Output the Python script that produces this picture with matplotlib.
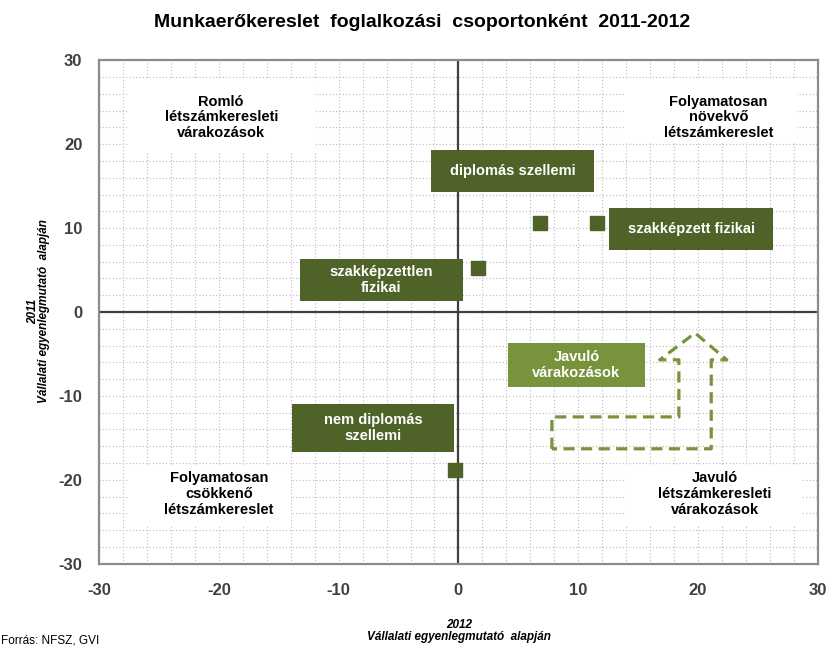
import matplotlib.pyplot as plt
from matplotlib.patches import Rectangle
import numpy as np

plt.rcParams['font.family'] = ['Liberation Sans', 'DejaVu Sans']
plt.rcParams['axes.unicode_minus'] = False
NARROW = ['Liberation Sans Narrow', 'DejaVu Sans Condensed', 'Liberation Sans']

# adatok: 2012 (x) és 2011 (y) vállalati egyenlegmutató
groups = ['diplomás szellemi', 'szakképzett fizikai',
          'szakképzettlen\nfizikai', 'nem diplomás\nszellemi']
x2012 = [6.8, 11.6, 1.6, -0.3]
y2011 = [10.6, 10.6, 5.2, -18.8]

# címkedobozok (x0, x1, y0, y1)
group_boxes = [(-2.25, 11.3, 14.3, 19.3),
               (12.6, 26.25, 7.4, 12.4),
               (-13.25, 0.35, 1.3, 6.3),
               (-13.9, -0.35, -16.7, -10.95)]

quad_texts = ['Romló\nlétszámkeresleti\nvárakozások',
              'Folyamatosan\nnövekvő\nlétszámkereslet',
              'Folyamatosan\ncsökkenő\nlétszámkereslet',
              'Javuló\nlétszámkeresleti\nvárakozások']
quad_pos = [(-19.8, 23.2), (21.7, 23.2), (-20.0, -21.7), (21.4, -21.7)]
quad_boxes = [(-27.6, -11.9, 19.0, 27.6),
              (13.9, 28.3, 20.1, 27.6),
              (-27.6, -14.0, -25.4, -18.2),
              (14.0, 28.6, -25.4, -18.2)]

# nyíl körvonala
arrow_x = [7.8, 7.8, 18.4, 18.4, 16.8, 19.75, 22.4, 21.1, 21.1, 7.8]
arrow_y = [-16.3, -12.5, -12.5, -5.7, -5.7, -2.5, -5.7, -5.7, -16.3, -16.3]
javulo_box = (4.1, 15.6, -8.9, -3.7)

dark = '#4F6228'
light = '#77933C'

fig = plt.figure(figsize=(8.32, 6.48), dpi=100)
ax = fig.add_axes([0.119, 0.130, 0.864, 0.777])

ax.set_xlim(-30, 30)
ax.set_ylim(-30, 30)
ax.set_xticks(np.arange(-30, 31, 10))
ax.set_yticks(np.arange(-30, 31, 10))
ax.set_xticks(np.arange(-30, 31, 2), minor=True)
ax.set_yticks(np.arange(-30, 31, 2), minor=True)
ax.grid(which='both', color='#bcbcbc', linestyle=(0, (1, 2)), linewidth=0.8, zorder=0)
ax.set_axisbelow(True)
ax.tick_params(which='both', length=0)
ax.tick_params(axis='x', pad=14)
ax.tick_params(axis='y', pad=12)
for lbl in ax.get_xticklabels() + ax.get_yticklabels():
    lbl.set_fontsize(12)
    lbl.set_fontweight('bold')
    lbl.set_color('#404040')
for sp in ax.spines.values():
    sp.set_color('#8c8c8c')
    sp.set_linewidth(1.6)

ax.axhline(0, color='#404040', lw=1.6, zorder=1)
ax.axvline(0, color='#404040', lw=1.6, zorder=1)

# negyed-feliratok fehér háttérrel
for txt, (tx, ty), (x0, x1, y0, y1) in zip(quad_texts, quad_pos, quad_boxes):
    ax.add_patch(Rectangle((x0, y0), x1 - x0, y1 - y0, facecolor='white',
                           edgecolor='none', zorder=1.2))
    ax.text(tx, ty, txt, ha='center', va='center', fontsize=10.5,
            fontweight='bold', color='black', linespacing=1.15, zorder=3)

# pontok
ax.plot(x2012, y2011, linestyle='none', marker='s', markersize=10,
        color=dark, zorder=4)

# csoportcímkék
for txt, (x0, x1, y0, y1) in zip(groups, group_boxes):
    ax.add_patch(Rectangle((x0, y0), x1 - x0, y1 - y0, facecolor=dark,
                           edgecolor='none', zorder=3))
    ax.text((x0 + x1) / 2, (y0 + y1) / 2, txt, ha='center', va='center',
            fontsize=10.5, fontweight='bold', color='white', linespacing=1.15,
            zorder=5)

x0, x1, y0, y1 = javulo_box
ax.add_patch(Rectangle((x0, y0), x1 - x0, y1 - y0, facecolor=light,
                       edgecolor='none', zorder=3))
ax.text((x0 + x1) / 2, (y0 + y1) / 2, 'Javuló\nvárakozások', ha='center',
        va='center', fontsize=10.5, fontweight='bold', color='white',
        linespacing=1.15, zorder=5)

ax.plot(arrow_x, arrow_y, color=light, lw=2.3, linestyle=(0, (3.5, 2)),
        solid_joinstyle='miter', zorder=3)

fig.text(0.507, 0.966, 'Munkaerőkereslet  foglalkozási  csoportonként  2011-2012',
         ha='center', va='center', fontsize=14, fontweight='bold')

fig.text(0.040, 0.52, '2011', rotation=90, ha='center', va='center',
         fontsize=8.5, fontweight='bold', style='italic', family=NARROW)
fig.text(0.053, 0.52, 'Vállalati egyenlegmutató  alapján', rotation=90,
         ha='center', va='center', fontsize=8.5, fontweight='bold',
         style='italic', family=NARROW)
fig.text(0.552, 0.035, '2012', ha='center', va='center', fontsize=8.5,
         fontweight='bold', style='italic', family=NARROW)
fig.text(0.552, 0.017, 'Vállalati egyenlegmutató  alapján', ha='center',
         va='center', fontsize=8.5, fontweight='bold', style='italic',
         family=NARROW)
fig.text(0.001, 0.011, 'Forrás: NFSZ, GVI', ha='left', va='center',
         fontsize=8.5, family=NARROW)

fig.savefig('out.png', dpi=100)
